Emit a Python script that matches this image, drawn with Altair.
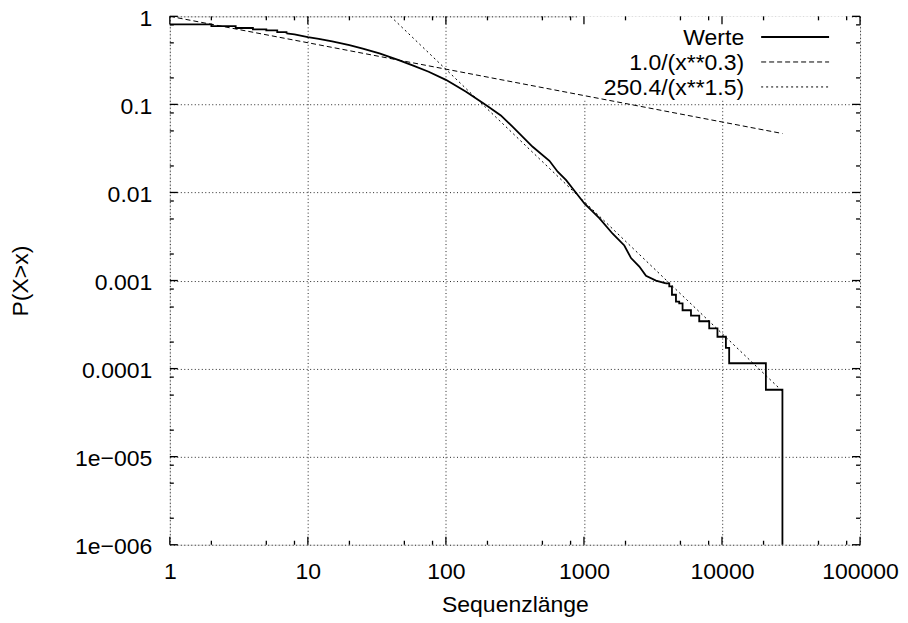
import altair as alt
import pandas as pd

# ---- data ----
werte_x = [1, 2, 3, 4, 5, 6, 7, 8, 10, 12, 15, 20, 25, 33, 45, 58, 75, 100, 140, 196,
           250, 305, 425, 562, 645, 743, 828, 1007, 1292, 1614, 1960, 2193, 2518, 2814,
           3324, 3926, 4150, 4340, 4640, 4900, 5180, 5960, 6840, 8080, 9270, 10670,
           11270, 20790, 27400]
werte_y = [0.81, 0.776, 0.737, 0.712, 0.694, 0.66, 0.64, 0.625, 0.58, 0.555, 0.52, 0.47,
           0.43, 0.38, 0.32, 0.275, 0.235, 0.19, 0.139, 0.098, 0.075, 0.0556, 0.033,
           0.0229, 0.0172, 0.0138, 0.0111, 0.0075, 0.0051, 0.0034, 0.0025, 0.0018,
           0.00144, 0.00113, 0.001, 0.00093, 0.00086, 0.00069, 0.000575, 0.00055,
           0.00046, 0.0004, 0.000345, 0.000287, 0.00023, 0.000172, 0.000115, 0.0000575,
           0.000001]
fit1_x = [1, 27400]
fit1_y = [1.0, 0.0467]
fit2_x = [39.7, 27400]
fit2_y = [1.0, 0.0000552]
series_names = ["Werte", "1.0/(x**0.3)", "250.4/(x**1.5)"]

x_major = [1, 10, 100, 1000, 10000, 100000]
x_minor = [2, 5, 8, 20, 50, 80, 200, 500, 800, 2000, 5000, 8000, 20000, 50000, 80000]
y_major = [1e-6, 1e-5, 1e-4, 1e-3, 1e-2, 1e-1, 1]
y_minor = [2e-6, 5e-6, 8e-6, 2e-5, 5e-5, 8e-5, 2e-4, 5e-4, 8e-4, 2e-3, 5e-3, 8e-3,
           0.02, 0.05, 0.08, 0.2, 0.5, 0.8]
x_labels = ["1", "10", "100", "1000", "10000", "100000"]
y_labels = ["1e\u2212006", "1e\u2212005", "0.0001", "0.001", "0.01", "0.1", "1"]

# ---- layout / style ----
W, H = 691, 529
FONT = "Liberation Sans"
FS = 23


def js_list(lst):
    return "[" + ",".join("'" + s + "'" for s in lst) + "]"


xscale = alt.Scale(type="log", domain=[1, 100000], nice=False)
yscale = alt.Scale(type="log", domain=[1e-6, 1], nice=False)

xaxis = alt.Axis(
    values=x_major,
    labelExpr=js_list(x_labels) + "[round(log(datum.value)/LN10)]",
    grid=True, gridDash=[1, 2.5], gridColor="black", gridWidth=1, gridOpacity=0.85,
    ticks=False, domain=False, labelPadding=16, labelFontSize=FS, labelFont=FONT,
    labelColor="black", labelFlush=False, labelOverlap=False,
    title="Sequenzlänge", titleFontSize=FS, titleFont=FONT, titleFontWeight="normal",
    titleColor="black", titleX=W / 2, titleY=60, titleBaseline="middle", titleAlign="center",
)
yaxis = alt.Axis(
    values=y_major,
    labelExpr=js_list(y_labels) + "[round(log(datum.value)/LN10)+6]",
    grid=True, gridDash=[1, 2.5], gridColor="black", gridWidth=1, gridOpacity=0.85,
    ticks=False, domain=False, labelPadding=18, labelFontSize=FS, labelFont=FONT,
    labelColor="black", labelFlush=False, labelOverlap=False, labelOffset=2,
    title="P(X>x)", titleFontSize=FS, titleFont=FONT, titleFontWeight="normal",
    titleColor="black", titleX=-149, titleY=H / 2, titleAngle=270,
    titleBaseline="middle", titleAlign="center",
)


def X(f):
    return alt.X(f, type="quantitative", scale=xscale, axis=xaxis)


def Y(f):
    return alt.Y(f, type="quantitative", scale=yscale, axis=yaxis)


werte = pd.DataFrame({"x": werte_x, "y": werte_y})
fit1 = pd.DataFrame({"x": fit1_x, "y": fit1_y})
fit2 = pd.DataFrame({"x": fit2_x, "y": fit2_y})

layers = []

# opaque key box (hides grid behind legend)
layers.append(
    alt.Chart(pd.DataFrame({"k": [0]})).mark_rect(color="white").encode(
        x=alt.value(408), x2=alt.value(682), y=alt.value(0), y2=alt.value(84)
    )
)

# base chart carrying the axes
layers.append(
    alt.Chart(werte).mark_line(color="black", strokeWidth=1.8, interpolate="step-after")
    .transform_filter("datum.x <= 7")
    .encode(x=X("x"), y=Y("y"))
)
layers.append(
    alt.Chart(werte).mark_line(color="black", strokeWidth=1.8, interpolate="linear")
    .transform_filter("datum.x >= 7 && datum.x <= 3926")
    .encode(x=X("x"), y=Y("y"))
)
layers.append(
    alt.Chart(werte).mark_line(color="black", strokeWidth=1.8, interpolate="step-after")
    .transform_filter("datum.x >= 3926")
    .encode(x=X("x"), y=Y("y"))
)
layers.append(
    alt.Chart(fit1).mark_line(color="black", strokeWidth=1, strokeDash=[5, 3])
    .encode(x=X("x"), y=Y("y"))
)
layers.append(
    alt.Chart(fit2).mark_line(color="black", strokeWidth=1, strokeDash=[2, 3])
    .encode(x=X("x"), y=Y("y"))
)

# inward ticks on all four sides
for vals, size in ((x_major, 8), (x_minor, 4)):
    d = pd.DataFrame({"x": vals})
    layers.append(alt.Chart(d).mark_rule(color="black", strokeWidth=1.3).encode(
        x=X("x"), y=alt.value(H), y2=alt.value(H - size)))
    layers.append(alt.Chart(d).mark_rule(color="black", strokeWidth=1.3).encode(
        x=X("x"), y=alt.value(0), y2=alt.value(size)))
for vals, size in ((y_major, 8), (y_minor, 4)):
    d = pd.DataFrame({"y": vals})
    layers.append(alt.Chart(d).mark_rule(color="black", strokeWidth=1.3).encode(
        y=Y("y"), x=alt.value(0), x2=alt.value(size)))
    layers.append(alt.Chart(d).mark_rule(color="black", strokeWidth=1.3).encode(
        y=Y("y"), x=alt.value(W), x2=alt.value(W - size)))

# key (gnuplot style: label right-aligned, sample to the right)
row_y = [20.7, 45.7, 70.7]
dashes = [[1, 0], [5, 3], [2, 3]]
widths = [1.8, 1, 1]
for i, name in enumerate(series_names):
    layers.append(
        alt.Chart(pd.DataFrame({"name": [name]})).mark_text(
            align="right", baseline="middle", font=FONT, fontSize=FS, color="black"
        ).encode(text="name:N", x=alt.value(575), y=alt.value(row_y[i] + 1.3))
    )
    layers.append(
        alt.Chart(pd.DataFrame({"name": [name]})).mark_rule(
            color="black", strokeWidth=widths[i], strokeDash=dashes[i]
        ).encode(x=alt.value(592), x2=alt.value(660), y=alt.value(row_y[i]))
    )

chart = (
    alt.layer(*layers)
    .properties(
        width=W, height=H,
        autosize=alt.AutoSizeParams(type="none"),
        padding={"left": 162, "top": 8, "right": 40, "bottom": 72},
    )
    .configure_view(stroke="black", strokeWidth=2)
    .configure(font=FONT)
)

chart.save("out.html", embed_options={"renderer": "svg", "actions": False})
